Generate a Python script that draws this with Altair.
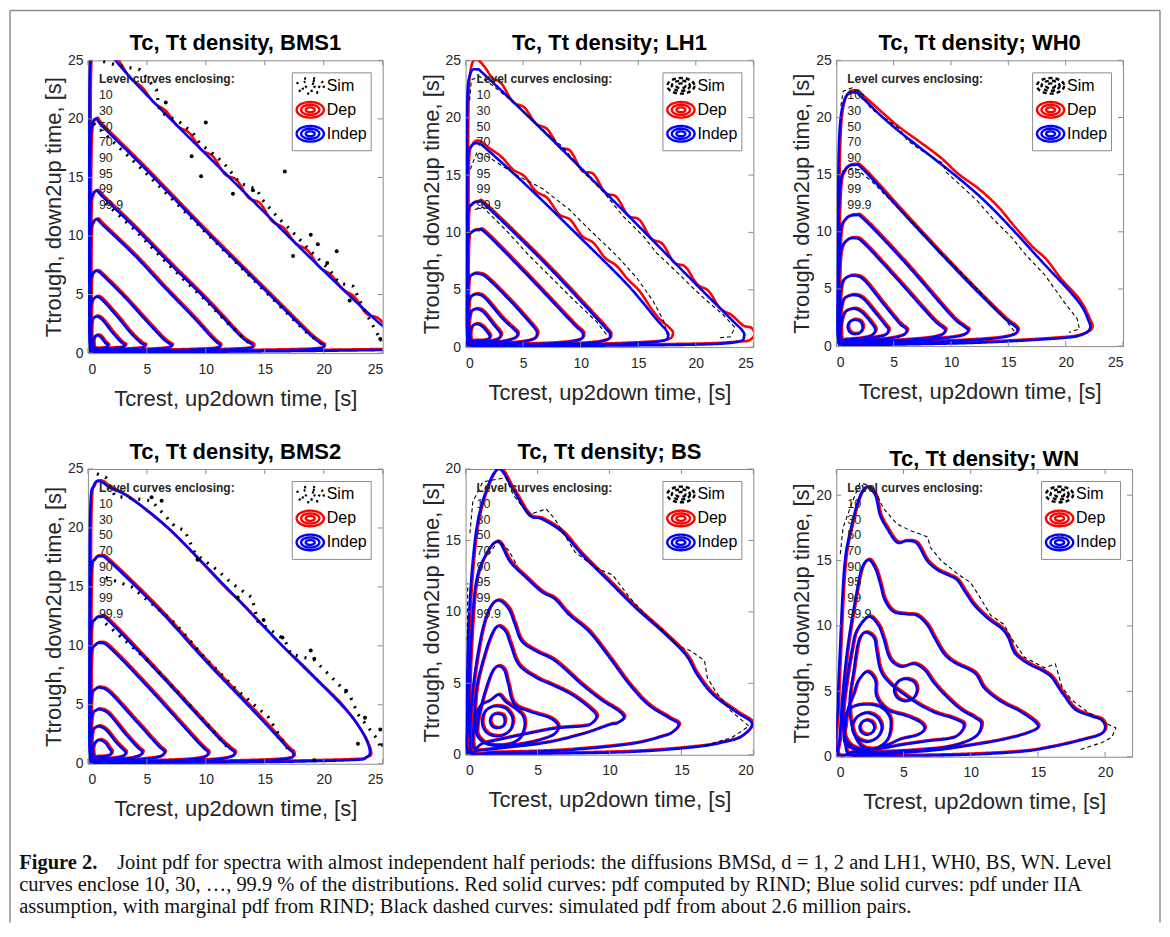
import altair as alt
import pandas as pd

# ------------------------------------------------------------------ data
KINDS = ["Sim", "Dep", "Indep"]
KIND_COLORS = ["#000000", "#ff0000", "#0000ff"]
LEVEL_LABELS = ["10", "30", "50", "70", "90", "95", "99", "99.9"]
TICKS_25 = [0, 5, 10, 15, 20, 25]
TICKS_20 = [0, 5, 10, 15, 20]

# closed level curves (Tc, Tt), ordered from the 99.9 % curve inwards
BMS1_INDEP = [
    [(0.2,0.25),(0.12,8),(0.12,18),(0.16,24),(0.35,26.4),(0.8,27.3),(1.6,25.9),(4,23.1),(7,20.0),(13,14.0),(19,8.0),(24,3.2),(26.3,1.3),(27,0.7),(26.6,0.35),(25,0.27),(18,0.18),(10,0.12),(3,0.1),(0.7,0.1)],
    [(0.25,0.25),(0.15,8),(0.18,16),(0.3,19.2),(0.7,20.0),(1.3,19.3),(5,15.6),(10,10.4),(15,5.4),(18.6,1.8),(19.6,0.95),(20.0,0.65),(19.6,0.38),(17,0.25),(10,0.15),(3,0.12),(0.8,0.12)],
    [(0.25,0.25),(0.16,6),(0.2,12),(0.35,13.4),(0.75,13.85),(1.3,13.3),(4,10.7),(7,7.6),(10,4.6),(12.8,1.6),(13.6,0.95),(14.0,0.68),(13.6,0.4),(11,0.26),(6,0.17),(1,0.13)],
    [(0.25,0.25),(0.17,5),(0.22,10),(0.4,11.1),(0.78,11.4),(1.3,10.9),(4,8.3),(6.5,5.6),(9,3.0),(10.3,1.55),(10.9,0.95),(11.2,0.68),(10.8,0.4),(8.5,0.27),(4.5,0.18),(1,0.14)],
    [(0.27,0.27),(0.2,3.5),(0.25,6.2),(0.45,6.85),(0.8,7.0),(1.3,6.6),(3,4.9),(5,2.7),(6.3,1.3),(6.85,0.85),(7.1,0.68),(6.8,0.45),(5.5,0.32),(3,0.22),(1,0.18)],
    [(0.3,0.3),(0.22,2.5),(0.28,4.2),(0.5,4.65),(0.82,4.8),(1.3,4.45),(2.5,3.1),(3.6,1.75),(4.3,1.05),(4.6,0.8),(4.85,0.68),(4.6,0.45),(3.6,0.34),(2,0.27),(0.8,0.26)],
    [(0.35,0.35),(0.26,1.7),(0.32,2.75),(0.56,3.05),(0.85,3.1),(1.3,2.75),(2.0,1.85),(2.7,1.05),(3.0,0.8),(3.15,0.7),(2.95,0.5),(2.3,0.42),(1.4,0.37),(0.7,0.35)],
    [(0.5,0.45),(0.45,1.05),(0.6,1.42),(0.88,1.5),(1.15,1.3),(1.45,0.9),(1.7,0.65),(1.45,0.45),(1.0,0.38),(0.7,0.38)],
]
BMS1_DEP_OUTER = [(0.2,0.25),(0.12,8),(0.12,18),(0.16,24),(0.35,26.4),(0.8,27.3),(1.6,26.0),(2.5,24.9),(3.5,23.4),(4.5,22.6),(5.5,21.3),(6.5,20.6),(7.5,19.3),(8.5,18.7),(9.5,17.3),(10.5,16.7),(11.5,15.2),(12.5,14.7),(13.5,13.2),(14.5,12.7),(15.5,11.2),(16.5,10.6),(17.5,9.3),(18.5,8.7),(19.5,7.3),(20.5,6.6),(21.5,5.4),(22.5,4.7),(23.5,3.3),(24.5,2.9),(25.5,1.9),(26.5,1.2),(27,0.7),(26.6,0.35),(25,0.27),(18,0.18),(10,0.12),(3,0.1),(0.7,0.1)]
BMS1_SIM = [
    [(1.3,24.9),(2.4,24.6),(4.4,24.2),(5.8,22.5),(6.1,20.6),(7.8,19.7),(8.9,18.8),(9.5,17.9),(10.9,16.8),(11.7,16.0),(12.9,14.5),(14.3,14.0),(14.8,13.1),(16,11.7),(17.4,10.3),(18.8,8.8),(20.5,7.1),(21.3,6.0),(22.5,5.7),(23,4.6),(23.6,3.4),(24.9,1.0)],
    [(0.5,19.6),(2.7,17.5),(4.8,15.5),(5.8,14.5),(8,12.3),(9.7,10.6),(11.7,8.6),(12.9,7.4),(14.5,5.8),(16.5,3.8),(18.5,1.8),(19.8,0.8)],
    [(1.5,12.8),(4,10.5),(6,8.4),(8,6.4),(10,4.5),(12,2.4),(13.6,0.9)],
]
BMS1_DOTS = [(6.6,21.4),(10,19.7),(8.8,16.8),(9.6,15.1),(16.7,15.5),(18.9,10.1),(21.1,8.7),(20.3,7.7),(17.4,8.3),(22.2,4.5),(24.8,1.2),(14.0,13.9),(12.3,13.6),(19.5,9.3)]

LH1_INDEP = [
    [(0.2,0.2),(0.12,10),(0.14,21),(0.4,23.8),(1.0,24.2),(1.8,23.6),(7,18.6),(13.7,11.9),(20,5.5),(23.2,2.3),(24.0,1.5),(24.2,0.95),(23.6,0.45),(20,0.22),(10,0.12),(1,0.1)],
    [(0.2,0.2),(0.12,8),(0.18,16),(0.5,17.5),(1.1,17.75),(1.9,17.2),(5.5,13.9),(9.7,9.8),(14,5.5),(16.6,2.4),(17.4,1.5),(17.6,1.0),(17.1,0.55),(14,0.3),(8,0.15),(1,0.1)],
    [(0.2,0.2),(0.14,6),(0.2,11.5),(0.5,12.4),(1.1,12.65),(1.9,12.2),(7,7.2),(11.3,2.6),(12.2,1.6),(12.55,1.1),(12.2,0.6),(10,0.3),(5,0.15),(1,0.1)],
    [(0.2,0.2),(0.15,5),(0.22,9.3),(0.5,10.0),(1.1,10.2),(1.9,9.8),(6,5.6),(9.3,2.1),(10.0,1.45),(10.2,1.1),(9.9,0.65),(8,0.35),(4,0.2),(1,0.12)],
    [(0.22,0.22),(0.17,3.5),(0.25,5.8),(0.55,6.3),(1.1,6.4),(1.9,6.0),(4,3.9),(5.7,2.0),(6.1,1.5),(6.2,1.15),(5.9,0.7),(4.5,0.4),(2.5,0.28),(1,0.2)],
    [(0.25,0.25),(0.2,2.5),(0.3,4.1),(0.6,4.5),(1.05,4.6),(1.7,4.25),(3.2,2.5),(4.2,1.55),(4.5,1.2),(4.3,0.8),(3.3,0.5),(1.8,0.35),(0.8,0.3)],
    [(0.3,0.3),(0.25,1.8),(0.4,2.95),(0.7,3.25),(1.1,3.3),(1.6,3.0),(2.4,2.0),(2.9,1.4),(3.05,1.05),(2.8,0.7),(2.1,0.5),(1.2,0.4),(0.6,0.35)],
    [(0.45,0.6),(0.4,1.3),(0.6,1.85),(1.0,2.0),(1.45,1.8),(1.85,1.35),(2.1,0.95),(1.9,0.65),(1.3,0.55),(0.8,0.55)],
]
LH1_DEP_OUTER = [(0.2,0.2),(0.12,10),(0.14,21),(0.35,24.2),(0.8,25.0),(1.5,24.4),(2.2,23.4),(3,22.9),(4,21.3),(5,20.8),(6,19.4),(7,18.9),(8,17.4),(9,17.0),(10,15.3),(11,15.0),(12,13.4),(13,13.0),(14,11.4),(15,11.0),(16,9.4),(17,8.9),(18,7.3),(19,6.9),(20,5.4),(21,4.8),(22,3.3),(23,2.7),(24,1.8),(24.7,1.6),(25,1.0),(24.5,0.5),(23.6,0.4),(20,0.22),(10,0.12),(1,0.1)]
LH1_DEP_99 = [(0.2,0.2),(0.12,8),(0.18,16),(0.5,17.6),(1.1,17.9),(1.9,17.3),(3,16.5),(4,15.4),(5,14.8),(6,13.5),(7,12.9),(8,11.5),(9,11.0),(10,9.6),(11,9.0),(12,7.7),(13,7.0),(14,5.8),(15,4.8),(16,3.3),(16.8,2.3),(17.6,1.6),(17.9,1.1),(17.3,0.55),(14,0.3),(8,0.15),(1,0.1)]
LH1_SIM = [
    [(0.35,21.5),(0.5,23.3),(1.2,23.6),(2.1,23.0),(4.1,21.4),(5.6,20.0),(7.0,18.7),(8.5,17.4),(9.9,15.6),(12,13.5),(13.7,11.4),(15.5,9.6),(16.6,8.2),(18.4,6.5),(19.5,5.4),(21,4.0),(22.4,2.8),(23.4,1.7),(23.0,0.9),(22.0,0.8)],
    [(0.4,15.5),(1.0,17.0),(2.1,16.5),(4.4,15.0),(6.7,13.8),(9,12.0),(10.8,10.2),(13.1,8.0),(14.9,6.0),(16.3,4.0),(17.2,2.3),(17.5,1.1)],
    [(0.8,12.0),(1.5,12.2),(3.5,10.2),(5.5,8.0),(7.3,6.2),(9.5,4.0),(11.4,2.2),(12.3,1.0)],
]

WH0_INDEP = [
    [(0.25,0.2),(0.15,8),(0.25,18),(0.7,21.5),(1.6,22.2),(2.4,21.6),(5.1,19.1),(12.4,13.2),(18.2,7.1),(21.1,3.9),(22.0,2.2),(22.1,1.5),(21.4,1.0),(19.6,0.7),(12.4,0.3),(4,0.12),(0.8,0.08)],
    [(0.25,0.2),(0.15,6),(0.3,13.5),(0.75,15.4),(1.6,15.85),(2.5,15.3),(6.6,10.8),(11,6.1),(14.5,2.6),(15.5,1.8),(15.8,1.4),(15.3,0.95),(13,0.6),(7,0.3),(2,0.15)],
    [(0.25,0.2),(0.2,5),(0.35,9.8),(0.8,11.1),(1.65,11.45),(2.5,11.0),(6,7.3),(9.9,2.8),(11.1,1.75),(11.5,1.4),(11.0,0.95),(9,0.65),(5,0.35),(1.5,0.2)],
    [(0.25,0.2),(0.2,4.5),(0.35,8),(0.8,9.15),(1.6,9.45),(2.4,9.0),(5,6.2),(8.3,2.5),(9.2,1.7),(9.5,1.4),(9.1,0.95),(7.5,0.65),(4,0.4),(1.2,0.22)],
    [(0.3,0.25),(0.25,3),(0.45,5.3),(0.9,6.0),(1.7,6.15),(2.5,5.7),(4.1,3.7),(5.5,2.0),(6.0,1.6),(6.15,1.35),(5.8,0.95),(4.5,0.65),(2.5,0.45),(1,0.3)],
    [(0.35,0.3),(0.3,2.3),(0.55,3.9),(1.0,4.35),(1.7,4.45),(2.4,4.1),(3.5,2.8),(4.3,1.8),(4.55,1.45),(4.3,1.0),(3.3,0.75),(2,0.55),(0.9,0.4)],
    [(0.45,0.5),(0.4,1.8),(0.7,2.9),(1.2,3.2),(1.7,3.25),(2.3,2.9),(3.0,2.1),(3.4,1.45),(3.1,0.95),(2.3,0.7),(1.3,0.6),(0.7,0.55)],
    [(1.0,1.65),(1.15,2.1),(1.6,2.3),(2.1,2.15),(2.3,1.65),(2.1,1.2),(1.65,1.05),(1.2,1.2)],
]
WH0_DEP_OUTER = [(0.25,0.2),(0.15,8),(0.25,18),(0.7,21.6),(1.6,22.3),(2.4,21.7),(5.1,19.3),(7,17.9),(9,16.4),(10.5,15.0),(12.4,13.6),(14,12.1),(15.5,10.3),(17,8.6),(18.2,7.5),(19.5,5.8),(21.1,4.0),(22.0,2.3),(22.2,1.5),(21.4,1.0),(19.6,0.7),(12.4,0.3),(4,0.12),(0.8,0.08)]
WH0_SIM = [
    [(0.4,21.0),(0.6,22.3),(1.4,22.6),(2.3,22.0),(3.0,20.8),(4.3,19.9),(5.5,19.0),(6.2,18.0),(7.3,17.2),(8.4,16.5),(9.3,16.0),(9.6,15.2),(10.7,14.2),(12.4,12.6),(13.6,11.2),(15.3,9.5),(16.5,8.0),(18.2,6.2),(19.9,3.8),(21.0,2.4),(21.2,1.5),(20.3,1.2)],
    [(0.5,15.3),(1.6,15.6),(3,14.5),(6,11.5),(9,8.3),(12,5.3),(14.5,2.6),(15.6,1.2)],
]

BMS2_INDEP = [
    [(0.25,0.2),(0.15,10),(0.2,21.5),(0.5,23.6),(1.05,23.95),(1.9,23.4),(3.5,22.6),(6.8,20.0),(11.7,15.0),(16.5,10.0),(21.5,5.0),(23.2,2.8),(23.9,1.2),(23.6,0.55),(22,0.3),(12,0.1),(1,0.06)],
    [(0.25,0.2),(0.15,7),(0.25,16),(0.55,17.3),(1.05,17.6),(1.9,17.1),(6,13.1),(10,8.7),(14.5,4.0),(16.8,1.5),(17.4,0.9),(17.0,0.45),(14,0.25),(7,0.12),(1,0.08)],
    [(0.25,0.2),(0.17,6),(0.25,11.3),(0.55,12.2),(1.05,12.45),(1.9,12.0),(6,7.7),(10.7,2.6),(12.0,1.35),(12.45,0.95),(12.0,0.55),(10,0.3),(5,0.15),(1,0.1)],
    [(0.25,0.2),(0.17,5),(0.27,9.3),(0.55,10.0),(1.05,10.25),(1.9,9.8),(5,6.6),(8.9,2.3),(9.8,1.35),(10.2,0.95),(9.8,0.55),(8,0.32),(4,0.18),(1,0.1)],
    [(0.27,0.22),(0.2,3.3),(0.3,5.8),(0.6,6.3),(1.05,6.45),(1.9,6.0),(4,3.7),(5.9,1.6),(6.35,1.2),(6.5,0.95),(6.1,0.6),(4.8,0.4),(2.5,0.25),(1,0.18)],
    [(0.3,0.25),(0.22,2.5),(0.35,4.15),(0.65,4.5),(1.05,4.6),(1.8,4.2),(3.2,2.5),(4.25,1.35),(4.6,1.05),(4.4,0.7),(3.5,0.45),(2,0.32),(0.8,0.27)],
    [(0.33,0.3),(0.27,1.7),(0.4,2.8),(0.7,3.1),(1.05,3.15),(1.6,2.8),(2.4,1.8),(3.0,1.2),(3.2,0.95),(3.0,0.65),(2.3,0.48),(1.3,0.38),(0.6,0.33)],
    [(0.5,0.6),(0.42,1.3),(0.65,1.85),(1.05,2.0),(1.5,1.75),(1.8,1.3),(2.0,1.0),(1.8,0.7),(1.2,0.6),(0.8,0.58)],
]
BMS2_DEP_OUTER = [(0.25,0.2),(0.15,10),(0.2,21.5),(0.5,23.6),(1.05,23.95),(1.9,23.4),(3.5,22.5),(5,21.3),(6.8,19.8),(8.5,18.1),(10,16.5),(11.7,14.7),(13,13.5),(14.5,11.9),(16.5,9.8),(18,8.4),(19.5,6.9),(21.5,4.9),(23.2,2.6),(23.9,1.0),(23.6,0.5),(22,0.3),(12,0.1),(1,0.06)]
BMS2_SIM = [
    [(0.76,24.6),(1.5,24.3),(2.3,22.7),(5.4,22.3),(7.4,20.1),(8.2,19.8),(9.1,17.8),(11.0,16.4),(12.2,15.3),(13.9,14.1),(14.4,12.1),(16.7,10.5),(17.2,9.3),(19.2,8.8),(21.2,6.8),(22.3,5.6),(22.9,4.2),(24,2.8),(24.6,2.0),(24.8,1.4)],
    [(1.5,15.8),(3.7,15.0),(5.5,13.5),(7.4,11.9),(9.9,9.0),(12.7,6.2),(15.3,3.95),(17.2,0.85)],
    [(1.5,11.9),(4.8,9.0),(7.5,6.2),(10,3.5),(12,1.2)],
]
BMS2_DOTS = [(5.4,22.6),(6.25,22.3),(19.2,8.9),(18.9,9.6),(22.9,1.7),(21.9,6.2),(24.8,2.9),(23.5,3.9),(16.5,10.7),(19.2,0.3),(25,1.6),(9.3,17.3),(14.9,12.2),(12.7,14.1)]

BS_INDEP = [
    [(0.1,0.2),(0.08,2.6),(0.23,9.6),(0.7,15.4),(1.4,18.4),(2.3,20.0),(3.25,18.65),(4.4,16.8),(5.3,16.5),(6.7,15.6),(8.1,14.0),(10,12.1),(11.8,10.3),(13.7,8.6),(15.3,7.0),(16.1,5.6),(17.2,4.2),(18.8,3.0),(19.9,2.2),(19.2,1.3),(18.0,0.9),(16,0.55),(11.4,0.2),(4.4,0.06),(0.8,0.05)],
    [(0.2,0.2),(0.2,2.6),(0.35,7.3),(0.7,11.9),(1.4,14.0),(2.27,14.9),(3.1,13.5),(4.2,12.4),(5.3,11.4),(6.2,10.9),(7.2,9.8),(8.6,8.6),(10,6.8),(11.4,4.9),(12.7,3.5),(14.1,2.6),(14.8,2.15),(14.4,1.6),(13.7,1.3),(11.4,0.75),(6.7,0.3),(2.1,0.15)],
    [(0.35,0.3),(0.35,2.6),(0.6,5.4),(1.15,8.65),(1.7,10.3),(2.3,10.8),(3.0,10.2),(3.4,9.2),(3.9,7.95),(4.9,7.25),(6.25,6.55),(8.1,4.9),(9.5,3.8),(10.6,3.1),(11.0,2.6),(10.5,2.2),(10,2.1),(8.1,1.45),(5.6,0.85),(2.8,0.5),(0.9,0.3)],
    [(0.55,0.5),(0.6,2.6),(0.8,4.9),(1.4,7.25),(1.9,8.6),(2.3,9.0),(2.8,8.6),(3.1,7.8),(3.7,6.3),(4.9,5.4),(6,4.9),(7.4,4.2),(8.6,3.3),(9.1,2.7),(8.7,2.15),(8.1,2.0),(6.25,1.85),(4.4,1.5),(2.5,1.1),(1.2,0.8)],
    [(0.9,1.2),(0.8,1.9),(1.05,3.3),(1.5,4.9),(1.9,5.9),(2.3,6.2),(2.7,5.9),(2.95,5.0),(3.35,3.6),(4.4,3.05),(5.8,2.6),(6.4,2.1),(6.3,1.6),(5.8,1.25),(4.4,0.85),(3.0,0.65),(1.6,0.72)],
    [(0.65,2.4),(1.0,3.4),(1.7,3.8),(2.3,4.2),(2.8,3.7),(3.5,3.2),(4.0,2.7),(4.1,2.0),(3.8,1.2),(3.2,0.8),(2.3,0.65),(1.4,0.8),(0.8,1.4)],
    [(1.15,2.35),(1.3,2.95),(1.7,3.3),(2.25,3.4),(2.85,3.2),(3.25,2.6),(3.2,1.95),(2.85,1.5),(2.25,1.3),(1.6,1.45),(1.25,1.85)],
    [(1.7,2.37),(1.85,2.75),(2.2,2.87),(2.6,2.75),(2.72,2.37),(2.6,2.0),(2.2,1.87),(1.85,2.0)],
]
BS_SIM = [
    [(0.3,15.5),(0.5,17.7),(1.2,19.1),(2.8,19.4),(3.3,18.2),(4.4,16.8),(5.6,17.2),(6.2,16.5),(7.6,14.2),(9.0,13.1),(10.2,12.6),(11.4,11.0),(12.7,9.6),(13.7,8.7),(14.8,7.6),(15.6,7.3),(16.6,6.6),(16.8,5.4),(17.4,4.4),(18.4,3.1),(19.7,2.0),(18.5,1.2),(16.5,0.6)],
    [(0.12,8.0),(0.15,12.0)],
    [(1.6,14.0),(2.3,15.0),(3.0,14.3),(3.6,13.2)],
]

WN_INDEP = [
    [(0.1,0.1),(0.12,4),(0.25,7.6),(0.6,14.5),(1.1,17.5),(1.75,19.9),(2.3,20.6),(2.9,20.0),(3.25,18.5),(3.75,17.5),(4.5,16.4),(5.25,16.5),(6,16.3),(6.75,15.0),(7.5,14.3),(8.3,13.9),(9,13.5),(9.65,12.5),(10.3,11.55),(11.3,10.55),(12.3,9.8),(12.8,9.1),(13.3,7.9),(14.3,7.1),(15.3,6.6),(16,6.1),(16.5,5.35),(17,4.6),(17.8,3.6),(19,3.1),(19.7,2.85),(20.0,2.3),(19.7,1.75),(18.5,1.35),(16,0.75),(13.5,0.37),(8.5,0.12),(2.3,0.05)],
    [(0.12,0.2),(0.25,1.4),(0.5,5.1),(0.9,8.8),(1.5,12.5),(1.9,14.4),(2.4,15.05),(2.9,14.4),(3.25,13.3),(3.6,12.0),(4.25,11.1),(5.25,10.9),(6,10.8),(6.75,10.1),(7.3,9.1),(8.0,7.9),(8.8,7.2),(10.3,6.4),(11.05,5.2),(12.3,4.2),(13.8,3.4),(15.0,2.4),(14.3,1.85),(12.3,1.3),(9.8,0.85),(7.3,0.5),(3.5,0.22),(1,0.12)],
    [(0.75,0.5),(0.5,3.1),(0.75,5.6),(1.15,8.1),(1.5,9.6),(2.38,10.7),(3.1,10.1),(3.5,9.1),(4.0,7.5),(4.8,6.9),(5.8,7.1),(6.6,6.6),(7.3,5.6),(8.3,4.5),(9.3,3.6),(10.3,3.0),(10.8,2.5),(10.3,1.5),(8.5,0.8),(6.0,0.5),(3.0,0.35),(1.3,0.35)],
    [(1.8,0.9),(1.15,2.4),(1.0,4.35),(1.3,6.6),(1.65,8.8),(2.15,9.5),(2.8,9.1),(3.0,8.1),(3.3,6.6),(4.0,5.6),(5.0,4.8),(6.0,4.1),(7.3,3.4),(8.8,2.9),(9.5,2.4),(8.8,1.5),(6.8,1.2),(4.8,0.9),(3.0,0.6)],
    [(4.3,5.1),(4.55,5.7),(5.15,5.95),(5.8,5.7),(6.0,5.1),(5.75,4.5),(5.15,4.25),(4.55,4.5)],
    [(0.6,1.2),(0.7,2.5),(0.85,3.6),(1.3,4.85),(1.65,5.85),(2.3,6.5),(2.9,5.85),(3.0,4.6),(3.8,3.6),(5.3,3.1),(6.3,2.6),(6.55,2.1),(6.0,1.65),(4.8,1.35),(3.8,0.9),(2.5,0.55),(1.3,0.6)],
    [(0.55,2.25),(0.75,3.3),(1.3,3.85),(2.3,4.0),(3.3,3.8),(3.95,3.1),(4.05,2.25),(3.8,1.3),(3.1,0.7),(2.3,0.55),(1.3,0.75),(0.75,1.3)],
    [(1.18,2.24),(1.5,3.0),(2.28,3.34),(3.05,3.0),(3.38,2.24),(3.05,1.48),(2.28,1.14),(1.5,1.48)],
    [(1.73,2.24),(1.9,2.63),(2.28,2.79),(2.66,2.63),(2.83,2.24),(2.66,1.85),(2.28,1.69),(1.9,1.85)],
]
WN_SIM = [
    [(0.3,15.5),(0.5,17.5),(1.2,19.5),(1.75,20.9),(2.4,20.8),(3.0,20.1),(3.5,19.0),(4.5,17.8),(5.5,17.3),(6.8,16.8),(7.0,16.0),(7.8,15.0),(9,14.0),(10,13.3),(10.5,12.5),(11.5,10.8),(12.5,10.1),(13,9.1),(14,7.6),(15.5,6.8),(16.3,7.1),(16.8,5.3),(17.5,4.35),(18.8,3.35),(20,2.6),(20.8,2.2),(20.5,1.5),(19.8,1.1),(18,0.5)],
]

CAPTION_BOLD = "Figure 2."
CAPTION_LINES = [
    "Joint pdf for spectra with almost independent half periods: the diffusions BMSd, d = 1, 2 and LH1, WH0, BS, WN. Level",
    "curves enclose 10, 30, \u2026, 99.9 % of the distributions. Red solid curves: pdf computed by RIND; Blue solid curves: pdf under IIA",
    "assumption, with marginal pdf from RIND; Black dashed curves: simulated pdf from about 2.6 million pairs.",
]

# ------------------------------------------------------------------ styling
FONT = "Liberation Sans"
SERIF = "Liberation Serif"
FRAME = "#8c8c8c"
TXT = "#262626"


def ellipse_path(rx, ry):
    kx, ky = round(0.5523 * rx, 3), round(0.5523 * ry, 3)
    return (f"M{rx},0C{rx},{ky},{kx},{ry},0,{ry}C{-kx},{ry},{-rx},{ky},{-rx},0"
            f"C{-rx},{-ky},{-kx},{-ry},0,{-ry}C{kx},{-ry},{rx},{-ky},{rx},0Z")


# legend icon: three concentric ellipses, like the MATLAB contour legend glyph
ELLIPSES = ellipse_path(1.5, 0.86) + ellipse_path(1.0, 0.56) + ellipse_path(0.5, 0.27)
ONE = pd.DataFrame({"k": [0]})


def lines_df(curves, kind):
    rows = []
    for c, pts in enumerate(curves):
        for i, (x, y) in enumerate(pts):
            rows.append({"kind": kind, "curve": f"{kind}-{c}", "i": i, "x": x, "y": y})
    return pd.DataFrame(rows)


def panel(title, dom, ticks, w, h, indep, dep, sim, dots, sim_width, sim_dash):
    legend = alt.Legend(title=None, orient="top-right", offset=12, symbolType=ELLIPSES,
                        symbolSize=330, symbolStrokeWidth=2.4, labelFontSize=16, labelFont=FONT,
                        labelColor="#000000", fillColor="white", strokeColor=FRAME, padding=3,
                        rowPadding=-4, symbolOffset=5, labelOffset=6)
    color = alt.Color("kind:N", scale=alt.Scale(domain=KINDS, range=KIND_COLORS), legend=legend)
    dash = alt.StrokeDash("kind:N", scale=alt.Scale(domain=KINDS, range=[sim_dash, [1, 0], [1, 0]]),
                          legend=legend)
    xaxis = alt.Axis(values=ticks, title="Tcrest, up2down time, [s]", grid=False, ticks=False,
                     domain=False, labelFontSize=14, labelColor=TXT, labelPadding=9, labelFont=FONT,
                     titleFontSize=22, titleFontWeight="normal", titleColor=TXT, titleFont=FONT,
                     titlePadding=12, format="d")
    yaxis = alt.Axis(values=ticks, title="Ttrough, down2up time, [s]", grid=False, ticks=False,
                     domain=False, labelFontSize=14, labelColor=TXT, labelPadding=5, labelFont=FONT,
                     titleFontSize=22, titleFontWeight="normal", titleColor=TXT, titleFont=FONT,
                     titlePadding=2, format="d")
    X = alt.X("x:Q", scale=alt.Scale(domain=dom, nice=False, zero=False), axis=xaxis)
    Y = alt.Y("y:Q", scale=alt.Scale(domain=dom, nice=False, zero=False), axis=yaxis)

    def curves(df, **kw):
        return alt.Chart(df).mark_line(clip=True, **kw).encode(
            x=X, y=Y, color=color, strokeDash=dash, detail="curve:N", order="i:Q")

    layers = [
        curves(lines_df(dep, "Dep"), interpolate="cardinal-closed", strokeWidth=2.6, xOffset=1.3, yOffset=-1.0),
        curves(lines_df(indep, "Indep"), interpolate="cardinal-closed", strokeWidth=2.6),
        curves(lines_df(sim, "Sim"), interpolate="linear", strokeWidth=sim_width),
    ]
    if dots:
        layers.append(alt.Chart(pd.DataFrame(dots, columns=["x", "y"])).mark_circle(
            color="black", size=16, opacity=1, clip=True).encode(x=X, y=Y))
    tx = pd.DataFrame({"x": ticks})
    ty = pd.DataFrame({"y": ticks})
    layers += [
        alt.Chart(tx).mark_rule(color=FRAME).encode(x=X, y=alt.value(h), y2=alt.value(h - 5)),
        alt.Chart(tx).mark_rule(color=FRAME).encode(x=X, y=alt.value(0), y2=alt.value(5)),
        alt.Chart(ty).mark_rule(color=FRAME).encode(y=Y, x=alt.value(0), x2=alt.value(5)),
        alt.Chart(ty).mark_rule(color=FRAME).encode(y=Y, x=alt.value(w - 5), x2=alt.value(w)),
        alt.Chart(ONE).mark_text(align="left", baseline="middle", font=FONT, fontSize=12,
                                 fontWeight="bold", color=TXT).encode(
            x=alt.value(11), y=alt.value(19), text=alt.value("Level curves enclosing:")),
        alt.Chart(ONE).mark_text(align="left", baseline="middle", font=FONT, fontSize=12.5,
                                 color=TXT, lineBreak="\n", lineHeight=15.7).encode(
            x=alt.value(11), y=alt.value(35), text=alt.value("\n".join(LEVEL_LABELS))),
    ]
    return alt.layer(*layers).properties(
        width=w, height=h,
        title=alt.TitleParams(text=title, fontSize=22, fontWeight="bold", font=FONT,
                              color="black", anchor="middle", offset=-2))


THICK = [2, 7]
THIN = [4, 3]
p1 = panel("Tc, Tt density, BMS1", [0, 25], TICKS_25, 295, 293, BMS1_INDEP,
           [BMS1_DEP_OUTER] + BMS1_INDEP[1:], BMS1_SIM, BMS1_DOTS, 3.2, THICK)
p2 = panel("Tc, Tt density; LH1", [0, 25], TICKS_25, 288, 287, LH1_INDEP,
           [LH1_DEP_OUTER, LH1_DEP_99] + LH1_INDEP[2:], LH1_SIM, None, 1.1, THIN)
p3 = panel("Tc, Tt density; WH0", [0, 25], TICKS_25, 287, 286, WH0_INDEP,
           [WH0_DEP_OUTER] + WH0_INDEP[1:], WH0_SIM, None, 1.1, THIN)
p4 = panel("Tc, Tt density, BMS2", [0, 25], TICKS_25, 295, 295, BMS2_INDEP,
           [BMS2_DEP_OUTER] + BMS2_INDEP[1:], BMS2_SIM, BMS2_DOTS, 3.2, THICK)
p5 = panel("Tc, Tt density; BS", [0, 20], TICKS_20, 288, 286, BS_INDEP,
           BS_INDEP, BS_SIM, None, 1.1, THIN)
p6 = panel("Tc, Tt density; WN", [0, 22], TICKS_20, 296, 288, WN_INDEP,
           WN_INDEP, WN_SIM, None, 1.1, THIN)

# caption cell, also carrying the figure frame (left, top and right edges)
CAP_SIZE = 20.5
cap_layers = [
    alt.Chart(ONE).mark_rule(color=FRAME, strokeWidth=1.5).encode(
        x=alt.value(-78), y=alt.value(-870), y2=alt.value(43)),
    alt.Chart(ONE).mark_rule(color=FRAME, strokeWidth=1.5).encode(
        x=alt.value(1073), y=alt.value(-870), y2=alt.value(43)),
    alt.Chart(ONE).mark_rule(color=FRAME, strokeWidth=1.5).encode(
        x=alt.value(-78), x2=alt.value(1073), y=alt.value(-870)),
    alt.Chart(ONE).mark_text(align="left", baseline="middle", font=SERIF, fontSize=CAP_SIZE,
                             fontWeight="bold", color="#111111").encode(
        x=alt.value(-68.75), y=alt.value(-16.75), text=alt.value(CAPTION_BOLD)),
    alt.Chart(ONE).mark_text(align="left", baseline="middle", font=SERIF, fontSize=CAP_SIZE,
                             color="#111111").encode(
        x=alt.value(29.25), y=alt.value(-16.75), text=alt.value(CAPTION_LINES[0])),
    alt.Chart(ONE).mark_text(align="left", baseline="middle", font=SERIF, fontSize=CAP_SIZE,
                             color="#111111").encode(
        x=alt.value(-68.75), y=alt.value(5.25), text=alt.value(CAPTION_LINES[1])),
    alt.Chart(ONE).mark_text(align="left", baseline="middle", font=SERIF, fontSize=CAP_SIZE,
                             color="#111111").encode(
        x=alt.value(-68.75), y=alt.value(27.25), text=alt.value(CAPTION_LINES[2])),
]
caption = alt.layer(*cap_layers).properties(
    width=295, height=40, view=alt.ViewBackground(stroke="transparent"))

chart = alt.concat(p1, p2, p3, p4, p5, p6, caption, columns=3,
                   spacing={"row": 116, "column": 83}, bounds="flush").resolve_scale(
    color="independent", strokeDash="independent").properties(
    padding=0, background="white").configure(font=FONT).configure_view(
    stroke=FRAME, strokeWidth=1)

chart.save("out.html", embed_options={"renderer": "svg", "actions": False})
